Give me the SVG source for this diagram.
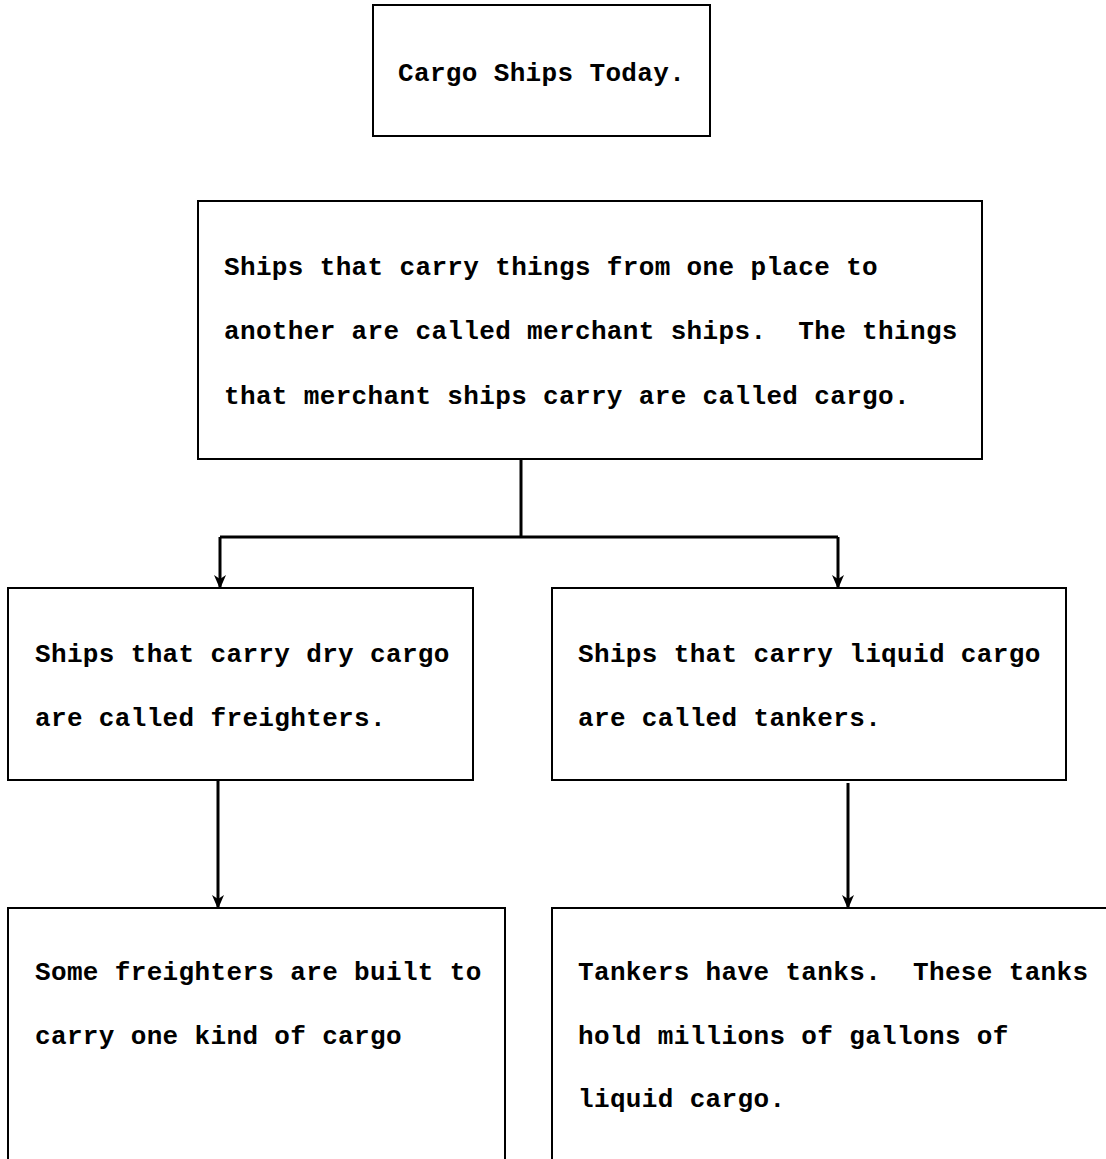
<svg xmlns="http://www.w3.org/2000/svg" width="1106" height="1159" viewBox="0 0 1106 1159">
<style>
.box{fill:none;stroke:#000;stroke-width:2}
.t{font-family:"Liberation Mono","Courier New",monospace;font-size:26px;font-weight:bold;fill:#000;white-space:pre;letter-spacing:0.35px}
.c{fill:none;stroke:#000;stroke-width:3}
</style>
<defs>
<marker id="ah" viewBox="0 0 14 12" refX="13" refY="6" markerWidth="14" markerHeight="12" markerUnits="userSpaceOnUse" orient="auto">
<path d="M0,0 L4,6 L0,12 L14,6 Z" fill="#000"/>
</marker>
</defs>
<rect width="1106" height="1159" fill="#fff"/>
<g id="title">
<rect class="box" x="373" y="5" width="337" height="131"/>
<text class="t" x="398" y="81">Cargo Ships Today.</text>
</g>
<g id="merchant">
<rect class="box" x="198" y="201" width="784" height="258"/>
<text class="t" x="224" y="275" xml:space="preserve">Ships that carry things from one place to</text>
<text class="t" x="224" y="339" xml:space="preserve">another are called merchant ships.  The things</text>
<text class="t" x="224" y="404" xml:space="preserve">that merchant ships carry are called cargo.</text>
</g>
<g id="freighters">
<rect class="box" x="8" y="588" width="465" height="192"/>
<text class="t" x="35" y="662">Ships that carry dry cargo</text>
<text class="t" x="35" y="726">are called freighters.</text>
</g>
<g id="tankers">
<rect class="box" x="552" y="588" width="514" height="192"/>
<text class="t" x="578" y="662">Ships that carry liquid cargo</text>
<text class="t" x="578" y="726">are called tankers.</text>
</g>
<g id="freighters-detail">
<path class="box" d="M8,1160 V908 H505 V1160"/>
<text class="t" x="35" y="980">Some freighters are built to</text>
<text class="t" x="35" y="1044">carry one kind of cargo</text>
</g>
<g id="tankers-detail">
<path class="box" d="M552,1160 V908 H1107"/>
<text class="t" x="578" y="980" xml:space="preserve">Tankers have tanks.  These tanks</text>
<text class="t" x="578" y="1044">hold millions of gallons of</text>
<text class="t" x="578" y="1107">liquid cargo.</text>
</g>
<g id="connectors">
<path class="c" d="M521,459 V537"/>
<path class="c" d="M220,537 H838"/>
<path class="c" d="M220,537 V588" marker-end="url(#ah)"/>
<path class="c" d="M838,537 V588" marker-end="url(#ah)"/>
<path class="c" d="M218,780 V908" marker-end="url(#ah)"/>
<path class="c" d="M848,783 V908" marker-end="url(#ah)"/>
</g>
</svg>
